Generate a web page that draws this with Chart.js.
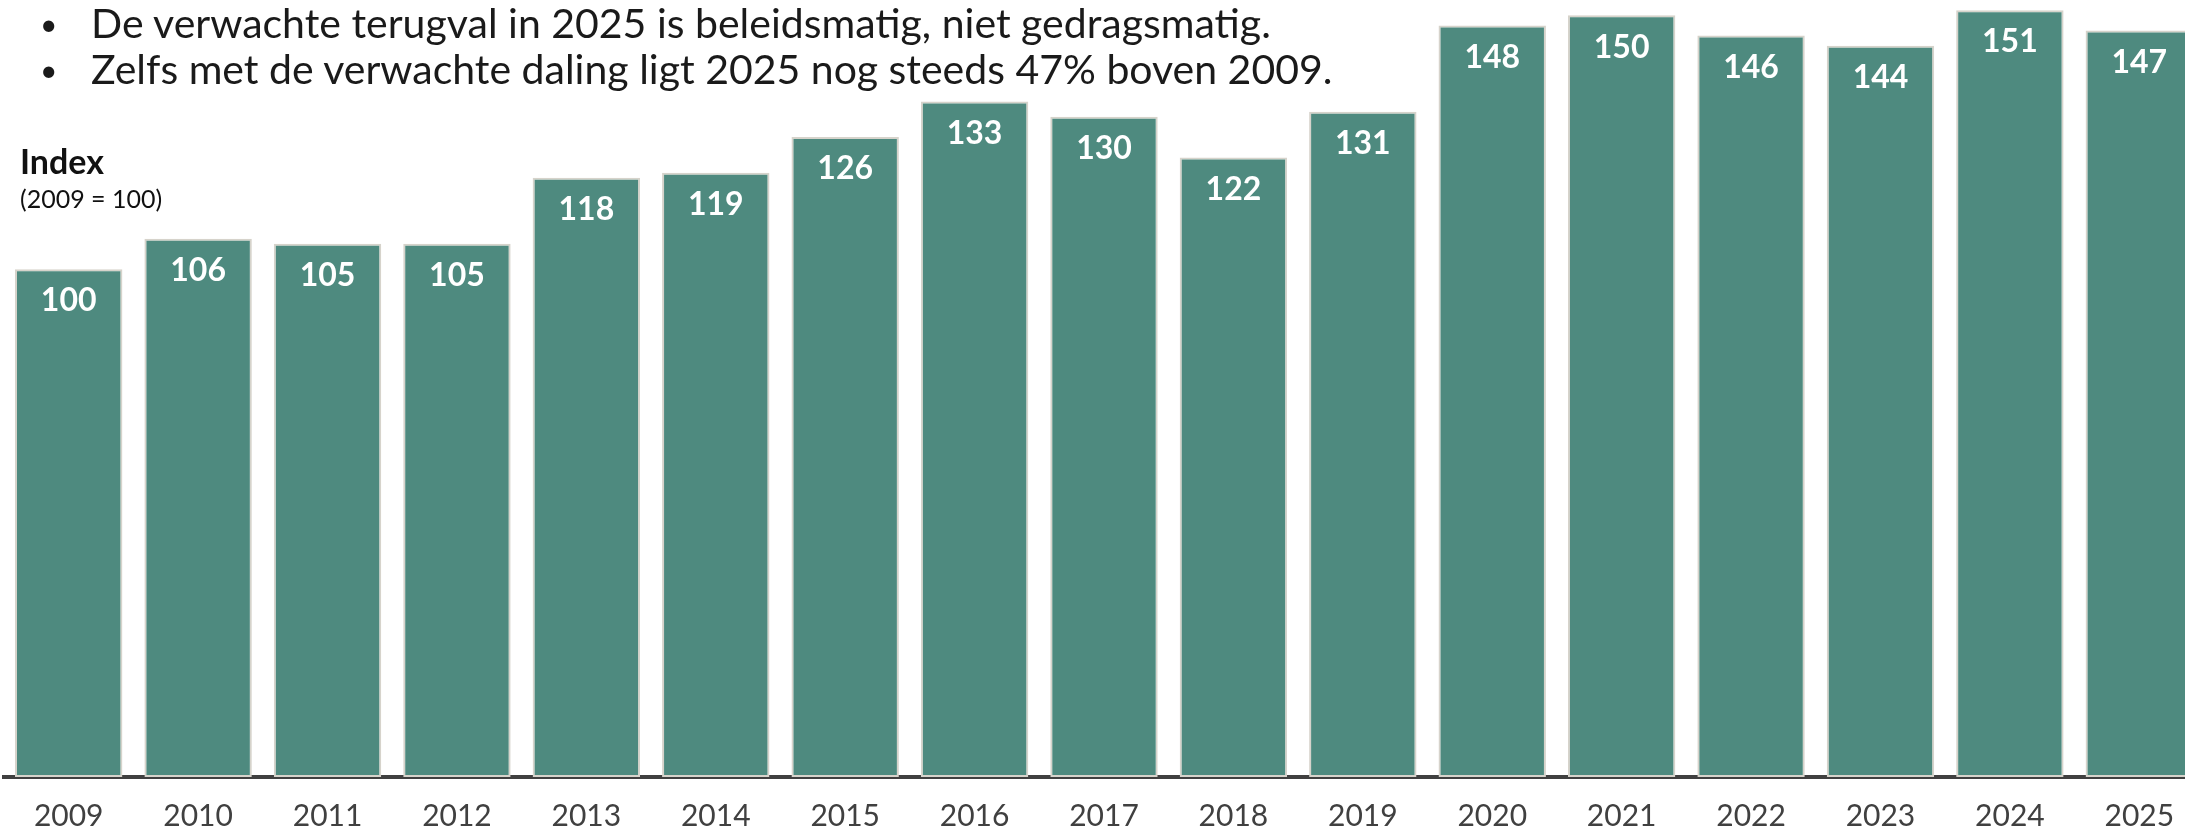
<!DOCTYPE html>
<html>
<head>
<meta charset="utf-8">
<script src="https://cdn.jsdelivr.net/npm/chart.js@4.4.1/dist/chart.umd.min.js"></script>
<style>
  html, body { margin: 0; padding: 0; background: #fff; overflow: hidden; width: 2185px; height: 834px; }
  #wrap { position: absolute; left: 0; top: 0; width: 2204px; height: 834px; }
  .note { position: absolute; font-family: Lato, sans-serif; color: #1a1a1a; white-space: nowrap; }
  .rij { position: relative; height: 46px; }
  .bullet { position: absolute; left: 40px; font-size: 30px; line-height: 48px; }
  .line { position: absolute; left: 91px; }
</style>
</head>
<body>
<div id="wrap"><canvas id="grafiek" width="2204" height="834"></canvas></div>

<div class="note" style="top:-1px;font-size:41px;line-height:48px;">
  <div class="rij"><span class="bullet">•</span><span class="line">De verwachte terugval in 2025 is beleidsmatig, niet gedragsmatig.</span></div>
  <div class="rij"><span class="bullet">•</span><span class="line">Zelfs met de verwachte daling ligt 2025 nog steeds 47% boven 2009.</span></div>
</div>
<div class="note" style="left:20px;top:140px;font-size:34px;font-weight:bold;color:#111;">Index</div>
<div class="note" style="left:20px;top:183px;font-size:25px;color:#111;">(2009 = 100)</div>

<script>
const jaren = ['2009', '2010', '2011', '2012', '2013', '2014', '2015', '2016', '2017',
  '2018', '2019', '2020', '2021', '2022', '2023', '2024', '2025'];
const indexWaarden = [100, 106, 105, 105, 118, 119, 126, 133, 130, 122, 131, 148, 150, 146, 144, 151, 147];
const yMax = 153;

// waarde in de kolom zetten, vlak onder de bovenkant
const kolomLabels = {
  id: 'kolomLabels',
  afterDatasetsDraw(chart) {
    const ctx = chart.ctx;
    const meta = chart.getDatasetMeta(0);
    ctx.save();
    ctx.font = 'bold 32px Lato';
    ctx.fillStyle = '#ffffff';
    ctx.textAlign = 'center';
    ctx.textBaseline = 'middle';
    meta.data.forEach((bar, i) => {
      ctx.fillText(indexWaarden[i], bar.x, bar.y + 32);
    });
    ctx.restore();
  }
};

const ctx = document.getElementById('grafiek').getContext('2d');
new Chart(ctx, {
  type: 'bar',
  data: {
    labels: jaren,
    datasets: [{
      data: indexWaarden,
      backgroundColor: '#4e8a7f',
      borderColor: '#d6d3cb',
      borderWidth: 2,
      borderSkipped: false,
      categoryPercentage: 1,
      barPercentage: 0.83
    }]
  },
  options: {
    responsive: false,
    animation: false,
    devicePixelRatio: 1,
    layout: { padding: { left: 4, right: 0, top: 0, bottom: 0 } },
    plugins: {
      legend: { display: false },
      tooltip: { enabled: false }
    },
    scales: {
      x: {
        z: 1,
        grid: { display: false, drawTicks: false },
        border: { display: true, color: '#404040', width: 4 },
        ticks: { color: '#404040', font: { family: 'Lato', size: 30 }, padding: 21, maxRotation: 0 },
        afterFit(scale) { scale.height = 57; }
      },
      y: {
        display: false,
        min: 0,
        max: yMax
      }
    }
  },
  plugins: [kolomLabels]
});
</script>
</body>
</html>
